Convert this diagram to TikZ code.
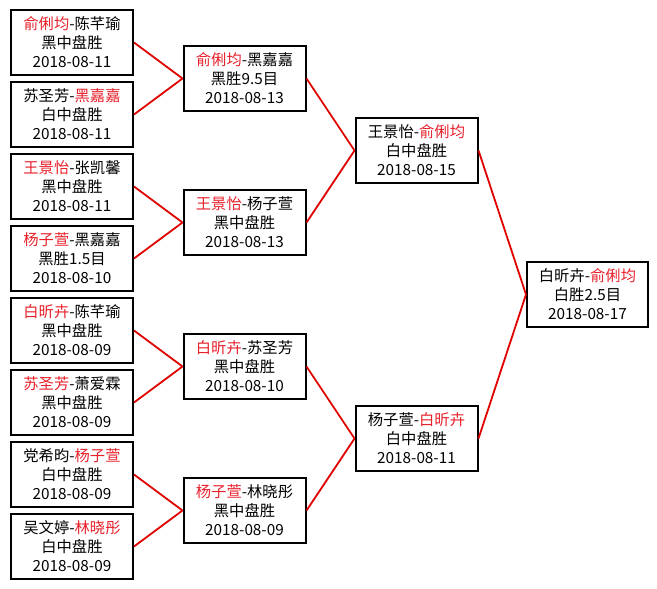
\documentclass[tikz,border=0pt]{standalone}
\usepackage{fontspec}
\setmainfont{Noto Sans CJK SC}
\usetikzlibrary{positioning}
\definecolor{wonred}{HTML}{E8202A}
\definecolor{linkred}{HTML}{E00000}
\newcommand{\won}[1]{\textcolor{wonred}{#1}}

\begin{document}
\begin{tikzpicture}[x=1pt, y=-1pt,
    game/.style={draw, line width=2pt, fill=white, minimum width=122pt, minimum height=65pt,
      inner sep=0pt, align=center, font=\fontsize{15.3}{19}\selectfont},
    link/.style={draw=linkred, line width=1.8pt}]
  \useasboundingbox[fill=white] (0,0) rectangle (657,589);

  % first round
  \node[game] (r1a) at (72,42.5) {\won{俞俐均}-陈芊瑜\\黑中盘胜\\2018-08-11};
  \node[game] (r1b) at (72,114.5) {苏圣芳-\won{黑嘉嘉}\\白中盘胜\\2018-08-11};
  \node[game] (r1c) at (72,186.5) {\won{王景怡}-张凯馨\\黑中盘胜\\2018-08-11};
  \node[game] (r1d) at (72,258.5) {\won{杨子萱}-黑嘉嘉\\黑胜1.5目\\2018-08-10};
  \node[game] (r1e) at (72,330.5) {\won{白昕卉}-陈芊瑜\\黑中盘胜\\2018-08-09};
  \node[game] (r1f) at (72,402.5) {\won{苏圣芳}-萧爱霖\\黑中盘胜\\2018-08-09};
  \node[game] (r1g) at (72,474.5) {党希昀-\won{杨子萱}\\白中盘胜\\2018-08-09};
  \node[game] (r1h) at (72,546.5) {吴文婷-\won{林晓彤}\\白中盘胜\\2018-08-09};

  % second round
  \node[game] (r2a) at (244.5,78.5) {\won{俞俐均}-黑嘉嘉\\黑胜9.5目\\2018-08-13};
  \node[game] (r2b) at (244.5,222.5) {\won{王景怡}-杨子萱\\黑中盘胜\\2018-08-13};
  \node[game] (r2c) at (244.5,366.5) {\won{白昕卉}-苏圣芳\\黑中盘胜\\2018-08-10};
  \node[game] (r2d) at (244.5,510.5) {\won{杨子萱}-林晓彤\\黑中盘胜\\2018-08-09};

  % semi-finals
  \node[game] (r3a) at (416.5,150.5) {王景怡-\won{俞俐均}\\白中盘胜\\2018-08-15};
  \node[game] (r3b) at (416.5,438.5) {杨子萱-\won{白昕卉}\\白中盘胜\\2018-08-11};

  % final
  \node[game, minimum width=121pt] (fin) at (587.5,294.5) {白昕卉-\won{俞俐均}\\白胜2.5目\\2018-08-17};

  \draw[link] (r1a.east) -- (r2a.west);
  \draw[link] (r1b.east) -- (r2a.west);
  \draw[link] (r1c.east) -- (r2b.west);
  \draw[link] (r1d.east) -- (r2b.west);
  \draw[link] (r1e.east) -- (r2c.west);
  \draw[link] (r1f.east) -- (r2c.west);
  \draw[link] (r1g.east) -- (r2d.west);
  \draw[link] (r1h.east) -- (r2d.west);

  \draw[link] (r2a.east) -- (r3a.west);
  \draw[link] (r2b.east) -- (r3a.west);
  \draw[link] (r2c.east) -- (r3b.west);
  \draw[link] (r2d.east) -- (r3b.west);

  \draw[link] (r3a.east) -- (fin.west);
  \draw[link] (r3b.east) -- (fin.west);
\end{tikzpicture}
\end{document}
